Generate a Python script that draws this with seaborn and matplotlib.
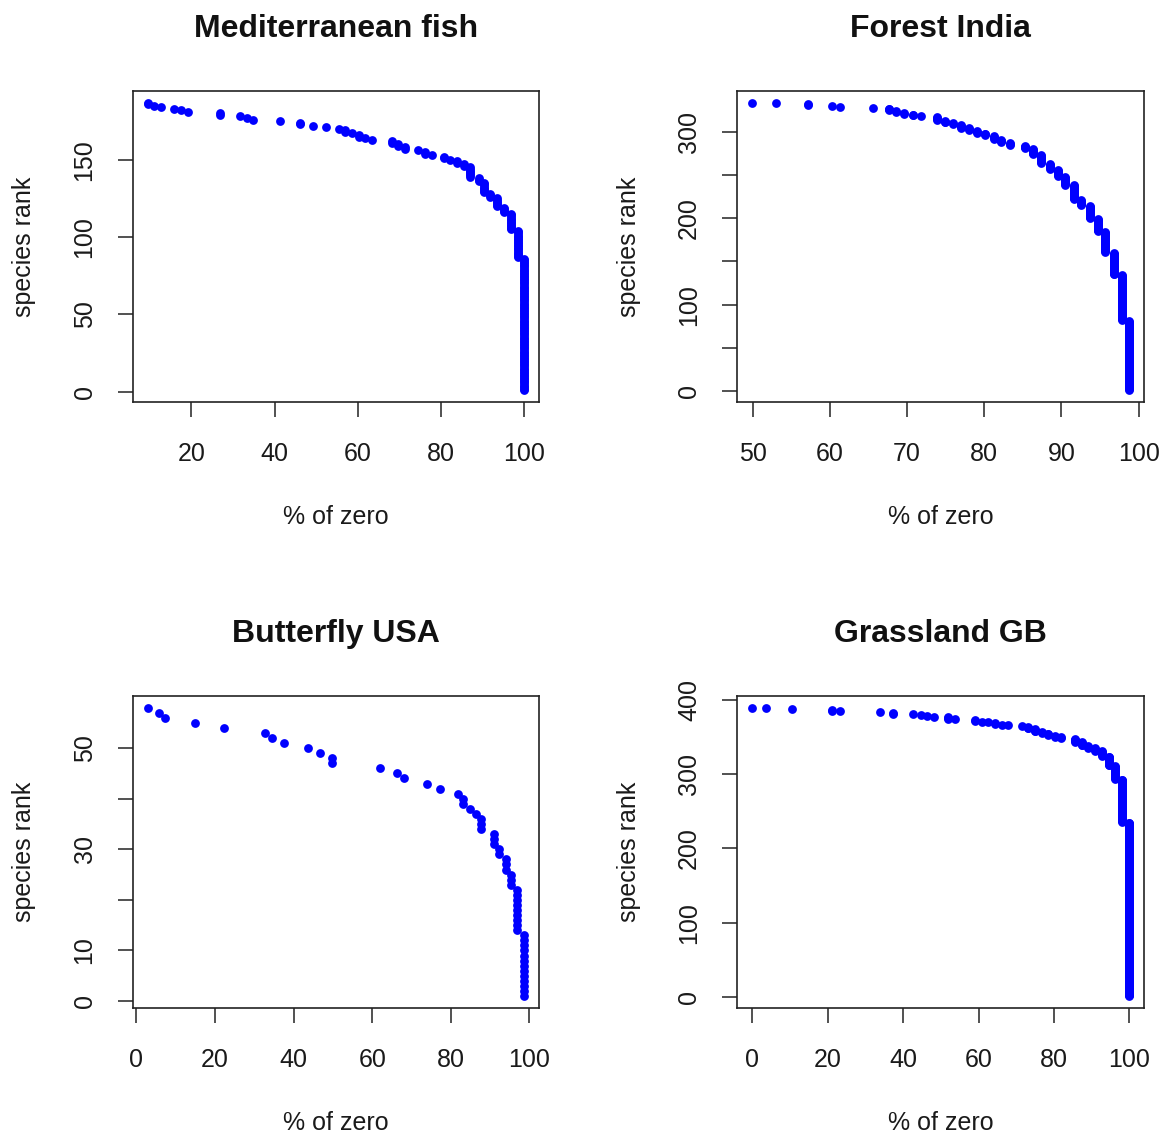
import numpy as np
import pandas as pd
import matplotlib
matplotlib.use("Agg")
import matplotlib.pyplot as plt
import seaborn as sns

# ---- data: distinct "% of zero" values (ascending) and number of species at each ----
fish_zero = [9.5, 11.1, 12.7, 15.8, 17.6, 19.1, 26.9, 31.7, 33.3, 34.9, 41.3, 46.0, 49.1,
             52.3, 55.4, 57.0, 58.6, 60.2, 61.8, 63.4, 68.1, 69.7, 71.3, 74.4, 76.0, 77.7,
             80.6, 82.2, 83.8, 85.4, 87.0, 89.0, 90.2, 91.8, 93.5, 95.1, 96.7, 98.4, 99.9]
fish_count = [2, 1, 1, 1, 1, 1, 2, 1, 1, 1, 1, 2, 1,
              1, 1, 2, 1, 2, 1, 1, 2, 2, 2, 1, 2, 1,
              2, 1, 2, 2, 7, 3, 7, 3, 6, 4, 11, 18, 86]

india_zero = [49.95, 53.0, 57.1, 60.2, 61.3, 65.6, 67.6, 68.6, 69.6, 70.7, 71.8, 73.9,
              74.9, 75.9, 77.0, 78.0, 79.1, 80.1, 81.2, 82.2, 83.3, 85.3, 86.3, 87.4,
              88.5, 89.5, 90.5, 91.6, 92.6, 93.7, 94.7, 95.7, 96.8, 97.8, 98.8]
india_count = [1, 1, 2, 1, 1, 1, 3, 2, 2, 2, 1, 4,
               3, 2, 4, 3, 3, 3, 4, 4, 3, 4, 7, 10,
               7, 8, 10, 17, 7, 15, 15, 24, 26, 53, 81]

butterfly_zero = [2.9, 5.7, 7.2, 14.8, 22.4, 32.7, 34.4, 37.6, 43.7, 46.7, 49.7, 62.1,
                  66.4, 68.0, 74.0, 77.2, 81.8, 83.1, 84.8, 86.5, 87.7, 90.9, 92.2,
                  93.9, 95.4, 96.9, 98.6]
butterfly_count = [1, 1, 1, 1, 1, 1, 1, 1, 1, 1, 2, 1,
                   1, 1, 1, 1, 1, 2, 1, 1, 3, 3, 2,
                   3, 3, 9, 13]

grass_zero = [0.0, 3.5, 10.5, 21.2, 23.2, 33.8, 37.3, 42.6, 44.6, 46.4, 48.1, 51.9, 53.7,
              59.0, 60.8, 62.6, 64.3, 66.1, 67.9, 71.4, 73.2, 75.0, 76.8, 78.5, 80.3,
              82.0, 85.6, 87.4, 89.1, 90.9, 92.7, 94.5, 96.3, 98.1, 100.0]
grass_count = [1, 1, 1, 2, 1, 1, 2, 1, 1, 1, 1, 3, 1,
               2, 1, 1, 2, 1, 1, 1, 3, 4, 2, 3, 2,
               2, 5, 5, 3, 4, 7, 13, 18, 58, 235]

titles = ["Mediterranean fish", "Forest India", "Butterfly USA", "Grassland GB"]
x_ticks = [[20, 40, 60, 80, 100], [50, 60, 70, 80, 90, 100],
           [0, 20, 40, 60, 80, 100], [0, 20, 40, 60, 80, 100]]
y_ticks = [[0, 50, 100, 150], [0, 50, 100, 150, 200, 250, 300],
           [0, 10, 20, 30, 40, 50], [0, 100, 200, 300, 400]]
y_ticklabels = [["0", "50", "100", "150"], ["0", "", "100", "", "200", "", "300"],
                ["0", "10", "", "30", "", "50"], ["0", "100", "200", "300", "400"]]

sns.set_theme(style="ticks")
plt.rcParams['font.family'] = ['Liberation Sans', 'DejaVu Sans']

fig = plt.figure(figsize=(11.68, 11.35), dpi=100)
fig.patch.set_facecolor("white")

positions = [[0.1136, 0.6461, 0.3479, 0.2737], [0.6313, 0.6461, 0.3485, 0.2737],
             [0.1136, 0.1123, 0.3479, 0.2744], [0.6313, 0.1123, 0.3485, 0.2744]]
datasets = [(fish_zero, fish_count), (india_zero, india_count),
            (butterfly_zero, butterfly_count), (grass_zero, grass_count)]

for i, (pos, (zero, count)) in enumerate(zip(positions, datasets)):
    ax = fig.add_axes(pos)
    xs = np.repeat(zero, count)
    df = pd.DataFrame({"zero": xs, "rank": np.arange(len(xs), 0, -1)})
    sns.scatterplot(data=df, x="zero", y="rank", ax=ax, color="#0000ff", s=40,
                    linewidth=0, legend=False)
    ax.margins(0.04)
    ax.set_facecolor("white")
    for sp in ax.spines.values():
        sp.set_visible(True)
        sp.set_color("#222222")
        sp.set_linewidth(1.2)
    ax.set_xticks(x_ticks[i])
    ax.set_xticklabels([str(v) for v in x_ticks[i]])
    ax.set_yticks(y_ticks[i])
    ax.set_yticklabels(y_ticklabels[i], rotation=90, va="center")
    ax.tick_params(axis="x", pad=18)
    ax.tick_params(axis="y", pad=15)
    ax.tick_params(axis="both", direction="out", length=11, width=1.1, color="#222222",
                   labelsize=18, labelcolor="#1a1a1a")
    ax.set_xlabel("% of zero", fontsize=18, labelpad=28, color="#1a1a1a")
    ax.set_ylabel("species rank", fontsize=18, labelpad=26, color="#1a1a1a")
    ax.set_title(titles[i], fontsize=23, fontweight="bold", pad=39, color="#111111")

fig.savefig("out.png", dpi=100, facecolor="white")
